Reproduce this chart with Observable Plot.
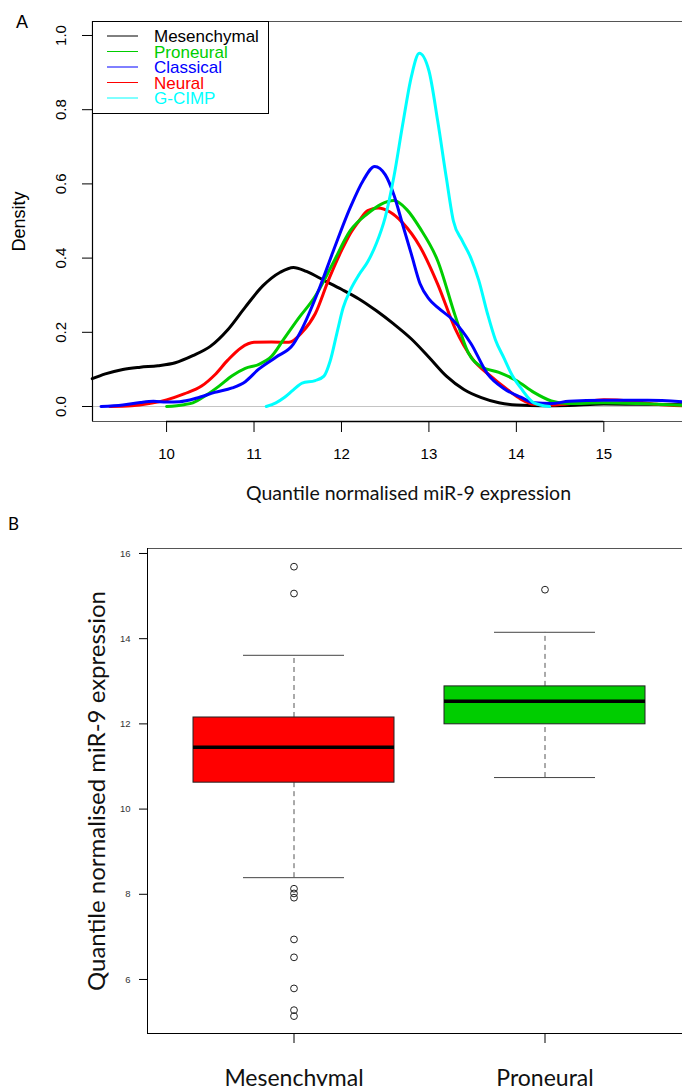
<!DOCTYPE html>
<html>
<head>
<meta charset="utf-8">
<script src="https://cdn.jsdelivr.net/npm/d3@7"></script>
<script src="https://cdn.jsdelivr.net/npm/@observablehq/plot@0.6"></script>
<style>
  html, body { margin: 0; padding: 0; background: #fff; }
  body { width: 682px; height: 1086px; overflow: hidden; position: relative; }
  #panelA { position: absolute; left: 0; top: 0; width: 682px; height: 510px; overflow: hidden; }
  #panelB { position: absolute; left: 0; top: 510px; width: 682px; height: 576px; overflow: hidden; }
  .panelLabel { position: absolute; line-height: 1; color: #000; }
  #legendA { position: absolute; left: 92px; top: 21px; }
</style>
</head>
<body>
<div id="panelA"></div>
<div id="panelB"></div>
<div class="panelLabel" id="labA" style="left:16px; top:12px; font: 18px 'Liberation Sans', Arial, sans-serif;">A</div>
<div class="panelLabel" id="labB" style="left:8px; top:513px; font: 17px Lato, 'Open Sans', sans-serif;">B</div>
<svg id="legendA" width="177" height="93"></svg>
<script>
// ---------------- Panel A data: density curves ([expression, density]) ----------------
const seriesNames  = ["Mesenchymal", "Proneural", "Classical", "Neural", "G-CIMP"];
const seriesColors = ["#000000", "#00CD00", "#0000FF", "#FF0000", "#00FFFF"];
const drawOrder    = ["Mesenchymal", "Neural", "Proneural", "Classical", "G-CIMP"];

const mesenchymal = [
  [9.15,0.075],[9.3,0.088],[9.5,0.100],[9.7,0.106],[9.9,0.110],[10.1,0.118],[10.3,0.137],
  [10.5,0.162],[10.7,0.207],[10.9,0.268],[11.1,0.325],[11.3,0.362],[11.45,0.375],[11.6,0.364],
  [11.8,0.340],[12.0,0.316],[12.2,0.290],[12.4,0.258],[12.6,0.222],[12.8,0.182],[13.0,0.133],
  [13.2,0.082],[13.4,0.046],[13.6,0.024],[13.8,0.010],[14.0,0.004],[14.3,0.002],[14.6,0.003],
  [15.0,0.007],[15.4,0.006],[15.9,0.005]
];
const proneural = [
  [10.0,0.000],[10.2,0.005],[10.3,0.010],[10.45,0.030],[10.6,0.055],[10.75,0.083],[10.9,0.103],
  [11.05,0.113],[11.2,0.135],[11.35,0.185],[11.5,0.235],[11.7,0.297],[11.9,0.385],[12.1,0.474],
  [12.3,0.520],[12.45,0.545],[12.6,0.555],[12.75,0.530],[12.9,0.480],[13.1,0.393],[13.3,0.245],
  [13.45,0.145],[13.6,0.107],[13.8,0.092],[14.0,0.070],[14.2,0.038],[14.4,0.015],[14.6,0.008],
  [15.0,0.010],[15.4,0.008],[15.9,0.003]
];
const classical = [
  [9.25,0.000],[9.5,0.004],[9.7,0.011],[9.85,0.014],[10.0,0.012],[10.15,0.013],[10.35,0.023],
  [10.55,0.038],[10.75,0.050],[10.9,0.067],[11.05,0.100],[11.25,0.133],[11.45,0.168],[11.55,0.210],
  [11.75,0.320],[11.9,0.415],[12.1,0.536],[12.25,0.610],[12.38,0.647],[12.5,0.625],[12.6,0.570],
  [12.7,0.490],[12.8,0.410],[12.9,0.330],[13.0,0.290],[13.1,0.267],[13.28,0.232],[13.48,0.170],
  [13.67,0.088],[13.86,0.048],[14.05,0.025],[14.2,0.010],[14.4,0.008],[14.6,0.014],[15.0,0.017],
  [15.5,0.017],[15.9,0.013]
];
const neural = [
  [9.35,0.000],[9.6,0.002],[9.8,0.008],[10.0,0.018],[10.2,0.034],[10.4,0.055],[10.55,0.085],
  [10.7,0.125],[10.85,0.158],[11.0,0.173],[11.2,0.174],[11.4,0.173],[11.55,0.200],[11.7,0.250],
  [11.85,0.340],[12.0,0.420],[12.1,0.466],[12.2,0.500],[12.3,0.528],[12.42,0.535],[12.55,0.525],
  [12.7,0.495],[12.9,0.430],[13.1,0.330],[13.3,0.210],[13.5,0.128],[13.7,0.083],[13.9,0.045],
  [14.05,0.020],[14.2,0.006],[14.4,0.004],[14.7,0.010],[15.0,0.018],[15.3,0.015],[15.6,0.006],
  [15.9,0.002]
];
const gcimp = [
  [11.14,0.000],[11.25,0.010],[11.35,0.025],[11.45,0.045],[11.55,0.063],[11.7,0.070],[11.8,0.082],
  [11.87,0.122],[11.95,0.200],[12.02,0.267],[12.1,0.313],[12.2,0.355],[12.3,0.390],[12.4,0.440],
  [12.5,0.510],[12.6,0.620],[12.7,0.760],[12.8,0.890],[12.89,0.952],[13.0,0.905],[13.1,0.770],
  [13.2,0.615],[13.28,0.500],[13.38,0.447],[13.48,0.400],[13.57,0.340],[13.67,0.250],[13.76,0.180],
  [13.86,0.130],[13.95,0.085],[14.05,0.050],[14.2,0.010],[14.38,0.000]
];
const seriesData = {
  "Mesenchymal": mesenchymal, "Proneural": proneural, "Classical": classical,
  "Neural": neural, "G-CIMP": gcimp
};

const xTicksA = [10, 11, 12, 13, 14, 15];
const yTicksA = [0.0, 0.2, 0.4, 0.6, 0.8, 1.0];
const xTitle = "Quantile normalised miR-9 expression";
const yTitleA = "Density";

// ---------------- Panel B data: boxplot summaries ----------------
const boxCategories = ["Mesenchymal", "Proneural"];
const boxColors     = ["#FF0000", "#00CD00"];
const boxQ1         = [10.62, 11.99];
const boxMedian     = [11.45, 12.53];
const boxQ3         = [12.15, 12.88];
const whiskerLow    = [8.39, 10.74];
const whiskerHigh   = [13.61, 14.15];
const outliersMesenchymal = [15.69, 15.06, 8.13, 8.02, 7.92, 6.94, 6.52, 5.79, 5.28, 5.14];
const outliersProneural   = [15.15];
const yTicksB = [6, 8, 10, 12, 14, 16];
const yTitleB = "Quantile normalised miR-9 expression";

// ---------------- build tables ----------------
const densityRows = drawOrder.flatMap(name => seriesData[name].map(([x, d]) => ({series: name, x, d})));
const boxRows = boxCategories.map((cat, i) => ({
  cat, q1: boxQ1[i], med: boxMedian[i], q3: boxQ3[i], lo: whiskerLow[i], hi: whiskerHigh[i]
}));
const outlierRows = [
  ...outliersMesenchymal.map(v => ({cat: boxCategories[0], v})),
  ...outliersProneural.map(v => ({cat: boxCategories[1], v}))
];

const sansR = "'Liberation Sans', Arial, Helvetica, sans-serif";
const sansC = "Lato, 'Open Sans', sans-serif";
const fmt1 = d3.format(".1f");

// ---------------- Panel A ----------------
const xDomA = [9.153, 16.38];
const yDomA = [-0.0404, 1.0377];
const plotA = Plot.plot({
  width: 682, height: 510,
  marginTop: 21, marginBottom: 89, marginLeft: 92, marginRight: -42,
  style: {fontFamily: sansR, background: "white", color: "black"},
  x: {domain: xDomA},
  y: {domain: yDomA},
  color: {domain: seriesNames, range: seriesColors},
  marks: [
    Plot.ruleY([0], {stroke: "#c4c4c4", strokeWidth: 1}),
    Plot.line(densityRows, {x: "x", y: "d", z: "series", stroke: "series", strokeWidth: 3, curve: "monotone-x"}),
    Plot.frame({stroke: "#555"}),
    Plot.ruleX([xDomA[0]], {stroke: "black", strokeWidth: 1.2}),
    Plot.ruleY([{y: yDomA[0], x1: xTicksA[0], x2: xTicksA[xTicksA.length - 1]}], {y: "y", x1: "x1", x2: "x2", stroke: "black", strokeWidth: 1.5}),
    Plot.axisX({ticks: xTicksA, tickSize: 11, tickPadding: 16, fontSize: 15, label: null}),
    Plot.axisY({ticks: yTicksA, tickSize: 10, tickFormat: () => "", label: null}),
    Plot.text(yTicksA, {y: d => d, text: d => fmt1(d), frameAnchor: "left", textAnchor: "middle",
                        lineAnchor: "middle", rotate: -90, dx: -31, fontSize: 15, fontFamily: sansR}),
    Plot.text([yTitleA], {frameAnchor: "left", textAnchor: "middle", lineAnchor: "middle",
                          rotate: -90, dx: -73, fontSize: 18, fontFamily: sansR}),
    Plot.text([xTitle], {frameAnchor: "bottom", textAnchor: "middle", lineAnchor: "middle",
                         dy: 72, fontSize: 19.5, fontFamily: sansC, fill: "#111"})
  ]
});
document.getElementById("panelA").appendChild(plotA);

// legend (overlay on panel A)
const leg = d3.select("#legendA");
leg.append("rect").attr("x", 0.5).attr("y", 0.5).attr("width", 176).attr("height", 92)
  .attr("fill", "white").attr("stroke", "black");
seriesNames.forEach((name, i) => {
  const cy = 15 + i * 15.5;
  leg.append("line").attr("x1", 15).attr("x2", 46).attr("y1", cy).attr("y2", cy)
    .attr("stroke", seriesColors[i]).attr("stroke-width", 1);
  leg.append("text").attr("x", 62).attr("y", cy + 6).text(name)
    .attr("fill", seriesColors[i]).attr("font-family", sansR).attr("font-size", 17);
});

// ---------------- Panel B ----------------
const yDomB = [4.732, 16.117];
const plotB = Plot.plot({
  width: 682, height: 576,
  marginTop: 38, marginBottom: 53, marginLeft: 147, marginRight: -8,
  style: {fontFamily: sansR, background: "white", color: "black"},
  x: {domain: boxCategories, paddingInner: 0.2, paddingOuter: 0.18, align: 0.5},
  y: {domain: yDomB},
  color: {domain: boxCategories, range: boxColors},
  marks: [
    Plot.ruleX(boxRows, {x: "cat", y1: "q3", y2: "hi", stroke: "#555", strokeDasharray: "5,4"}),
    Plot.ruleX(boxRows, {x: "cat", y1: "lo", y2: "q1", stroke: "#555", strokeDasharray: "5,4"}),
    Plot.tickY(boxRows, {x: "cat", y: "hi", insetLeft: 50, insetRight: 50, stroke: "#444"}),
    Plot.tickY(boxRows, {x: "cat", y: "lo", insetLeft: 50, insetRight: 50, stroke: "#444"}),
    Plot.barY(boxRows, {x: "cat", y1: "q1", y2: "q3", fill: "cat", stroke: "#222", strokeWidth: 1}),
    Plot.tickY(boxRows, {x: "cat", y: "med", stroke: "black", strokeWidth: 3.5}),
    Plot.dot(outlierRows, {x: "cat", y: "v", r: 3.4, stroke: "#222", strokeWidth: 1, fill: "none"}),
    Plot.frame({stroke: "#555"}),
    Plot.frame({anchor: "left", stroke: "black"}),
    Plot.ruleY([yDomB[0]], {stroke: "black"}),
    Plot.axisX({tickSize: 10, tickPadding: 26, fontSize: 23, fontFamily: sansC, label: null, fill: "#111"}),
    Plot.axisY({ticks: yTicksB, tickSize: 8, tickPadding: 9, fontSize: 9.5, label: null, fill: "#333"}),
    Plot.text([yTitleB], {frameAnchor: "left", textAnchor: "middle", lineAnchor: "middle",
                          rotate: -90, dx: -50.5, fontSize: 24, fontFamily: sansC, fill: "#111"})
  ]
});
document.getElementById("panelB").appendChild(plotB);
</script>
</body>
</html>
